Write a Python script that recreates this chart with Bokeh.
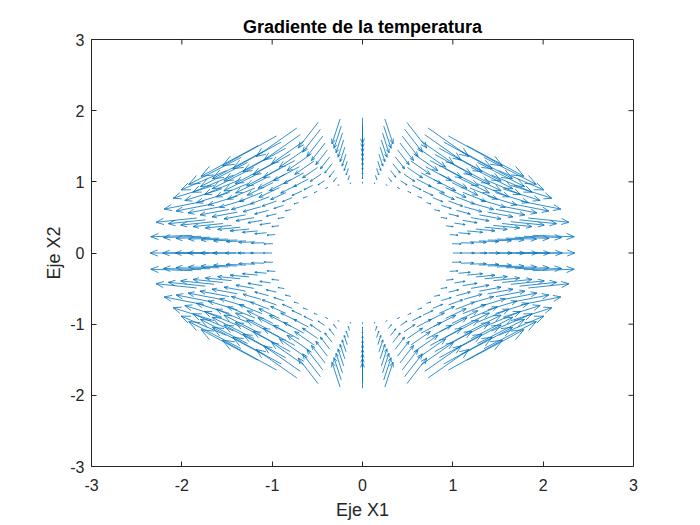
import math
from bokeh.plotting import figure
from bokeh.models import Range1d, FixedTicker
from bokeh.embed import file_html
from bokeh.resources import INLINE

# ---------------- data ----------------
TITLE = "Gradiente de la temperatura"
XLABEL = "Eje X1"
YLABEL = "Eje X2"
XTICKS = [-3, -2, -1, 0, 1, 2, 3]
YTICKS = [-3, -2, -1, 0, 1, 2, 3]

# polar mesh of arrow tails
RADII = [1.0, 1.1, 1.2, 1.3, 1.4, 1.5, 1.6, 1.7, 1.8, 1.9]
PHI_Q1 = [0, 7.5, 15, 22.5, 30, 37.5, 45, 52.5, 60, 67.5, 75, 82.5, 90]  # degrees, first quadrant

# drawn arrow components in the first quadrant (rows: PHI_Q1, cols: RADII);
# the other quadrants are the mirror images seen in the picture
U_Q1 = [
    [0.100, 0.139, 0.178, 0.217, 0.256, 0.294, 0.333, 0.372, 0.411, 0.450],
    [0.100, 0.140, 0.180, 0.220, 0.260, 0.300, 0.340, 0.380, 0.420, 0.460],
    [0.090, 0.130, 0.170, 0.210, 0.250, 0.290, 0.330, 0.370, 0.410, 0.450],
    [0.080, 0.120, 0.160, 0.200, 0.240, 0.280, 0.320, 0.360, 0.400, 0.440],
    [0.070, 0.112, 0.154, 0.197, 0.239, 0.281, 0.323, 0.366, 0.408, 0.450],
    [0.060, 0.109, 0.158, 0.207, 0.256, 0.304, 0.353, 0.402, 0.451, 0.500],
    [0.050, 0.109, 0.168, 0.227, 0.286, 0.344, 0.403, 0.462, 0.521, 0.580],
    [0.045, 0.110, 0.175, 0.240, 0.305, 0.370, 0.435, 0.500, 0.565, 0.630],
    [0.035, 0.098, 0.161, 0.223, 0.286, 0.349, 0.412, 0.474, 0.537, 0.600],
    [0.025, 0.072, 0.119, 0.167, 0.214, 0.261, 0.308, 0.356, 0.403, 0.450],
    [0.012, 0.035, 0.058, 0.081, 0.104, 0.128, 0.151, 0.174, 0.197, 0.220],
    [0.005, 0.014, 0.024, 0.033, 0.043, 0.052, 0.062, 0.071, 0.081, 0.090],
    [0.000, 0.000, 0.000, 0.000, 0.000, 0.000, 0.000, 0.000, 0.000, 0.000],
]
V_Q1 = [
    [0.000, 0.000, 0.000, 0.000, 0.000, 0.000, 0.000, 0.000, 0.000, 0.000],
    [-0.003, -0.005, -0.007, -0.009, -0.011, -0.012, -0.014, -0.016, -0.018, -0.020],
    [-0.008, -0.014, -0.020, -0.025, -0.031, -0.037, -0.043, -0.048, -0.054, -0.060],
    [-0.012, -0.023, -0.034, -0.045, -0.056, -0.066, -0.077, -0.088, -0.099, -0.110],
    [-0.015, -0.033, -0.052, -0.070, -0.088, -0.107, -0.125, -0.143, -0.162, -0.180],
    [-0.016, -0.044, -0.072, -0.101, -0.129, -0.157, -0.185, -0.214, -0.242, -0.270],
    [-0.016, -0.056, -0.097, -0.137, -0.178, -0.218, -0.259, -0.299, -0.340, -0.380],
    [-0.018, -0.064, -0.110, -0.155, -0.201, -0.247, -0.293, -0.338, -0.384, -0.430],
    [-0.018, -0.063, -0.107, -0.152, -0.197, -0.241, -0.286, -0.331, -0.375, -0.420],
    [-0.018, -0.060, -0.103, -0.145, -0.188, -0.230, -0.273, -0.315, -0.358, -0.400],
    [-0.018, -0.056, -0.094, -0.132, -0.170, -0.208, -0.246, -0.284, -0.322, -0.360],
    [-0.020, -0.057, -0.093, -0.130, -0.167, -0.203, -0.240, -0.277, -0.313, -0.350],
    [-0.020, -0.058, -0.096, -0.133, -0.171, -0.209, -0.247, -0.284, -0.322, -0.360],
]

# ---------------- style ----------------
FRAME_W, FRAME_H = 542, 427
ARROW_COLOR = "#0072BD"
AX_COLOR = "#262626"
FONT = "Liberation Sans"
HEAD_FRAC = 0.2
HEAD_ANG = math.radians(22)
TICK_LEN = 5  # px, drawn inward

# ---------------- assemble the full field by quadrant symmetry ----------------
rays = []  # (theta_deg, row_index, sign_u, sign_v)
n = len(PHI_Q1)
for i in range(n):
    rays.append((PHI_Q1[i], i, 1, 1))
for i in range(n - 2, -1, -1):
    rays.append((180 - PHI_Q1[i], i, -1, 1))
for i in range(1, n):
    rays.append((180 + PHI_Q1[i], i, -1, -1))
for i in range(n - 2, 0, -1):
    rays.append((360 - PHI_Q1[i], i, 1, -1))

SX = FRAME_W / (XTICKS[-1] - XTICKS[0])
SY = FRAME_H / (YTICKS[-1] - YTICKS[0])

shaft_xs, shaft_ys, head_xs, head_ys = [], [], [], []
for th, i, su, sv in rays:
    t = math.radians(th)
    for k, r in enumerate(RADII):
        x0, y0 = r * math.cos(t), r * math.sin(t)
        u, v = su * U_Q1[i][k], sv * V_Q1[i][k]
        x1, y1 = x0 + u, y0 + v
        shaft_xs.append([x0, x1])
        shaft_ys.append([y0, y1])
        dpx, dpy = u * SX, v * SY
        lp = math.hypot(dpx, dpy)
        if lp > 0:
            a = math.atan2(dpy, dpx)
            hl = HEAD_FRAC * lp
            bx1 = x1 + hl * math.cos(a + math.pi - HEAD_ANG) / SX
            by1 = y1 + hl * math.sin(a + math.pi - HEAD_ANG) / SY
            bx2 = x1 + hl * math.cos(a + math.pi + HEAD_ANG) / SX
            by2 = y1 + hl * math.sin(a + math.pi + HEAD_ANG) / SY
            head_xs.append([bx1, x1, bx2])
            head_ys.append([by1, y1, by2])

# ---------------- figure ----------------
p = figure(frame_width=FRAME_W, frame_height=FRAME_H,
           x_range=Range1d(XTICKS[0], XTICKS[-1]), y_range=Range1d(YTICKS[0], YTICKS[-1]),
           output_backend="svg", toolbar_location=None,
           min_border_left=91, min_border_right=50, min_border_top=39, min_border_bottom=55,
           background_fill_color="white", border_fill_color="white")
p.grid.visible = False
p.outline_line_color = AX_COLOR
p.outline_line_width = 1

p.title.text = TITLE
p.title.align = "center"
p.title.text_font = FONT
p.title.text_font_size = "18px"
p.title.text_font_style = "bold"
p.title.text_color = "#000000"
p.title.standoff = 6

p.multi_line(shaft_xs, shaft_ys, line_color=ARROW_COLOR, line_width=0.8)
p.multi_line(head_xs, head_ys, line_color=ARROW_COLOR, line_width=0.8)

for ax, ticks in ((p.xaxis[0], XTICKS), (p.yaxis[0], YTICKS)):
    ax.ticker = FixedTicker(ticks=ticks)
    ax.major_label_overrides = {t: str(t) for t in ticks}
    ax.major_tick_in = TICK_LEN
    ax.major_tick_out = 0
    ax.minor_tick_line_color = None
    ax.axis_line_color = AX_COLOR
    ax.major_tick_line_color = AX_COLOR
    ax.major_label_text_font = FONT
    ax.major_label_text_font_size = "16px"
    ax.major_label_text_color = AX_COLOR
    ax.axis_label_text_font = FONT
    ax.axis_label_text_font_size = "18px"
    ax.axis_label_text_font_style = "normal"
    ax.axis_label_text_color = AX_COLOR
p.xaxis[0].axis_label = XLABEL
p.yaxis[0].axis_label = YLABEL
p.xaxis[0].major_label_standoff = 12
p.yaxis[0].major_label_standoff = 7
p.xaxis[0].axis_label_standoff = 6
p.yaxis[0].axis_label_standoff = 3

# mirrored inward ticks on the top and right edges of the box
xt = XTICKS[1:-1]
yt = YTICKS[1:-1]
p.segment(x0=xt, y0=[YTICKS[-1]] * len(xt), x1=xt, y1=[YTICKS[-1] - TICK_LEN / SY] * len(xt),
          line_color=AX_COLOR, line_width=1)
p.segment(x0=[XTICKS[-1]] * len(yt), y0=yt, x1=[XTICKS[-1] - TICK_LEN / SX] * len(yt), y1=yt,
          line_color=AX_COLOR, line_width=1)

open("out.html", "w").write(file_html(p, INLINE))
